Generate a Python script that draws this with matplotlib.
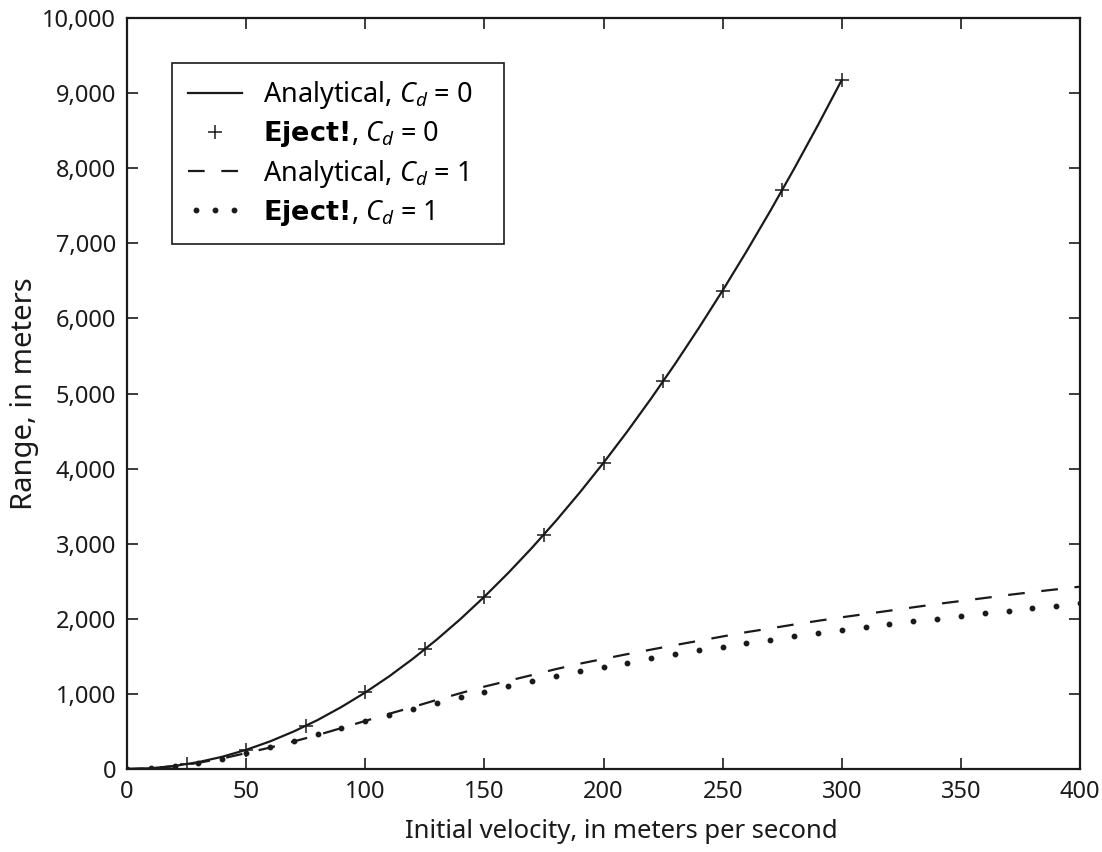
import matplotlib
matplotlib.use("Agg")
import matplotlib.pyplot as plt
from matplotlib import font_manager
from matplotlib.legend_handler import HandlerLine2D
from matplotlib.ticker import FuncFormatter

# ---- data ----
v_analytic0 = [0, 10, 20, 30, 40, 50, 60, 70, 80, 90, 100, 110, 120, 130, 140, 150,
               160, 170, 180, 190, 200, 210, 220, 230, 240, 250, 260, 270, 280, 290, 300]
r_analytic0 = [0, 10, 41, 92, 163, 255, 367, 500, 652, 826, 1019, 1233, 1468, 1723, 1998,
               2294, 2610, 2946, 3303, 3680, 4077, 4495, 4934, 5392, 5872, 6371, 6891,
               7431, 7992, 8573, 9174]

v_eject0 = [0, 25, 50, 75, 100, 125, 150, 175, 200, 225, 250, 275, 300]
r_eject0 = [0, 64, 255, 573, 1019, 1593, 2294, 3122, 4077, 5160, 6371, 7709, 9174]

v_cd1 = [0, 10, 20, 30, 40, 50, 60, 70, 80, 90, 100, 110, 120, 130, 140, 150, 160, 170,
         180, 190, 200, 210, 220, 230, 240, 250, 260, 270, 280, 290, 300, 310, 320, 330,
         340, 350, 360, 370, 380, 390, 400]
r_analytic1 = [0, 9, 38, 83, 140, 212, 285, 367, 452, 545, 640, 735, 825, 920, 1010, 1097,
               1174, 1251, 1330, 1402, 1466, 1530, 1590, 1650, 1707, 1765, 1822, 1872,
               1924, 1973, 2020, 2064, 2108, 2153, 2197, 2237, 2277, 2318, 2356, 2392, 2428]
r_eject1 = [0, 9, 40, 84, 138, 217, 297, 373, 466, 550, 645, 722, 800, 878, 955, 1030,
            1103, 1172, 1238, 1300, 1362, 1416, 1474, 1525, 1580, 1627, 1676, 1724, 1765,
            1809, 1851, 1895, 1929, 1971, 2001, 2039, 2073, 2108, 2140, 2173, 2206]

x_ticks = [0, 50, 100, 150, 200, 250, 300, 350, 400]
y_ticks = [0, 1000, 2000, 3000, 4000, 5000, 6000, 7000, 8000, 9000, 10000]

labels = [r"Analytical, $C_d$ = 0",
          r"$\mathbf{Eject!}\!$, $C_d$ = 0",
          r"Analytical, $C_d$ = 1",
          r"$\mathbf{Eject!}\!$, $C_d$ = 1"]

# ---- fonts ----
avail = {f.name for f in font_manager.fontManager.ttflist}
main_font = "Noto Sans" if "Noto Sans" in avail else "DejaVu Sans"

plt.rcParams['font.family'] = [main_font, 'DejaVu Sans']
plt.rcParams['mathtext.fontset'] = 'custom'
plt.rcParams['mathtext.rm'] = main_font
plt.rcParams['mathtext.it'] = main_font + ':italic'
plt.rcParams['mathtext.bf'] = 'DejaVu Sans:bold'

fig = plt.figure(figsize=(11.02, 8.52), dpi=100)
ax = fig.add_axes([127/1102, 1 - 769/852, (1080-127)/1102, (769-18)/852])

ink = "#1a1a1a"
l1, = ax.plot(v_analytic0, r_analytic0, color=ink, lw=1.6, label=labels[0])
l2, = ax.plot(v_eject0, r_eject0, linestyle='none', marker='+', markersize=10,
              markeredgewidth=1.1, color=ink, label=labels[1])
l3, = ax.plot(v_cd1, r_analytic1, color=ink, lw=1.6, dashes=(7.5, 7.5), label=labels[2])
l4, = ax.plot(v_cd1, r_eject1, linestyle='none', marker='o', markersize=3.2,
              color=ink, label=labels[3])

ax.set_xlim(0, 400)
ax.set_ylim(0, 10000)
ax.set_xticks(x_ticks)
ax.set_yticks(y_ticks)
ax.yaxis.set_major_formatter(FuncFormatter(lambda v, p: f"{int(v):,}"))
ax.tick_params(direction='in', length=8, width=1.2, top=True, right=True,
               labelsize=17, pad=8, colors=ink)
for s in ax.spines.values():
    s.set_linewidth(1.6)
    s.set_color(ink)

ax.set_xlabel("Initial velocity, in meters per second", fontsize=18.5, color=ink)
ax.xaxis.set_label_coords((621 - 127) / 953, -0.066, transform=ax.transAxes)
ax.xaxis.label.set_va('top')
ax.set_ylabel("Range, in meters", fontsize=21, color=ink, labelpad=2)

leg = ax.legend(handles=[l1, l2, l3, l4], loc='upper left',
                bbox_to_anchor=(0.047, 0.94), borderaxespad=0, fancybox=False,
                framealpha=1, edgecolor=ink, fontsize=19.5, handlelength=2.0,
                handletextpad=0.75, labelspacing=0.3, borderpad=0.6, numpoints=1,
                handler_map={l4: HandlerLine2D(numpoints=3)})
leg.get_frame().set_linewidth(1.2)
# widen the frame to the reference's box width (pad on the right)
leg.get_texts()[0].set_text(labels[0] + "\u00a0\u00a0\u00a0")

fig.savefig("out.png", dpi=100)
